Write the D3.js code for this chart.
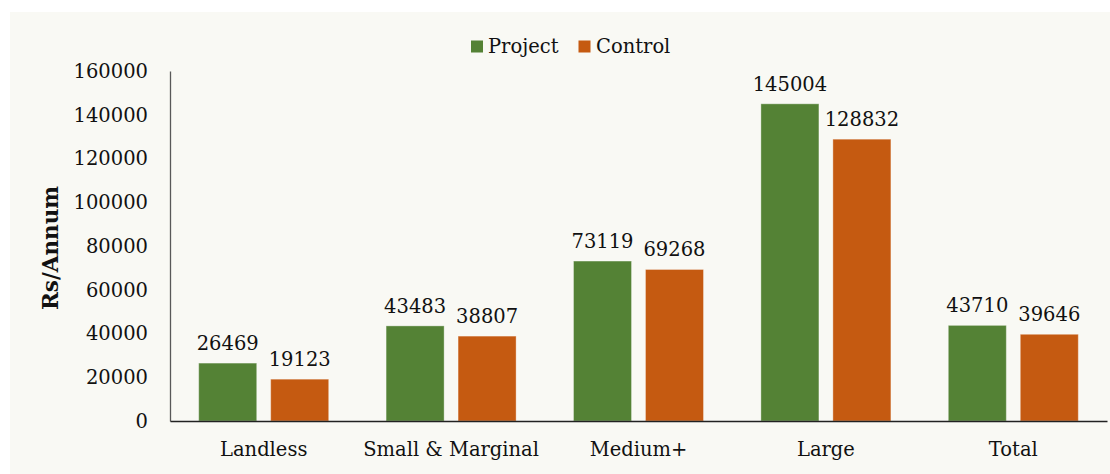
<!DOCTYPE html>
<html><head><meta charset="utf-8">
<script src="https://cdn.jsdelivr.net/npm/d3@7"></script>
<style>
html,body{margin:0;padding:0;background:#fff;}
svg{display:block;}
text{font-family:"DejaVu Serif","Liberation Serif",serif;fill:#111;}
</style></head>
<body>
<svg id="chart" width="1110" height="474"></svg>
<script>
const categories = ["Landless", "Small & Marginal", "Medium+", "Large", "Total"];
const seriesNames = ["Project", "Control"];
const projectValues = [26469, 43483, 73119, 145004, 43710];
const controlValues = [19123, 38807, 69268, 128832, 39646];
const yTicks = [0, 20000, 40000, 60000, 80000, 100000, 120000, 140000, 160000];
const colors = ["#548235", "#c55a11"];
const yTitle = "Rs/Annum";

(function () {
const svg = d3.select("#chart");
svg.append("rect").attr("x", 10).attr("y", 12).attr("width", 1100).attr("height", 462).attr("fill", "#f9f9f4");

const pL = 170, pR = 1107, pT = 71, pB = 421;
const x = d3.scaleBand().domain(categories).range([pL, pR]).paddingInner(0).paddingOuter(0);
const xs = d3.scaleBand().domain(seriesNames).range([28.7, x.bandwidth() - 28.7]).paddingInner(0.194);
const y = d3.scaleLinear().domain([0, 160000]).range([pB, pT]);

const data = categories.map((c, i) => ({cat: c, vals: [projectValues[i], controlValues[i]]}));

const fs = 19.5;
const yAxis = svg.append("g").attr("transform", `translate(${pL},0)`)
  .call(d3.axisLeft(y).tickValues(yTicks).tickSize(0).tickPadding(22).tickFormat(d3.format("d")));
yAxis.select(".domain").attr("stroke", "#595959").attr("stroke-width", 1.3);
yAxis.selectAll("text").style("font-size", fs + "px").attr("fill", "#111").style("font-family", '"DejaVu Serif",serif');

const g = svg.append("g");
data.forEach(d => {
  d.vals.forEach((v, j) => {
    const bx = x(d.cat) + xs(seriesNames[j]);
    g.append("rect").attr("x", bx).attr("y", y(v)).attr("width", xs.bandwidth())
      .attr("height", y(0) - y(v)).attr("fill", colors[j])
      .attr("stroke", "#ffffff").attr("stroke-opacity", 0.35).attr("stroke-width", 1);
    g.append("text").attr("x", bx + xs.bandwidth() / 2).attr("y", y(v) - 13)
      .attr("text-anchor", "middle").style("font-size", fs + "px").text(v);
  });
});

const xAxis = svg.append("g").attr("transform", `translate(0,${pB})`)
  .call(d3.axisBottom(x).tickSize(0).tickPadding(21));
xAxis.select(".domain").attr("stroke", "#222").attr("stroke-width", 1.5);
xAxis.selectAll("text").style("font-size", fs + "px").attr("fill", "#111").style("font-family", '"DejaVu Serif",serif');

svg.append("text").attr("transform", `translate(58,${(pT + pB) / 2 + 2}) rotate(-90)`)
  .attr("text-anchor", "middle").style("font-size", "21.5px").style("font-weight", "bold").text(yTitle);

const legendPos = [[471, 488], [578.5, 596]];
seriesNames.forEach((s, i) => {
  svg.append("rect").attr("x", legendPos[i][0]).attr("y", 40.5).attr("width", 12).attr("height", 12).attr("fill", colors[i]);
  svg.append("text").attr("x", legendPos[i][1]).attr("y", 53).style("font-size", fs + "px").text(s);
});
})();
</script>
</body></html>
